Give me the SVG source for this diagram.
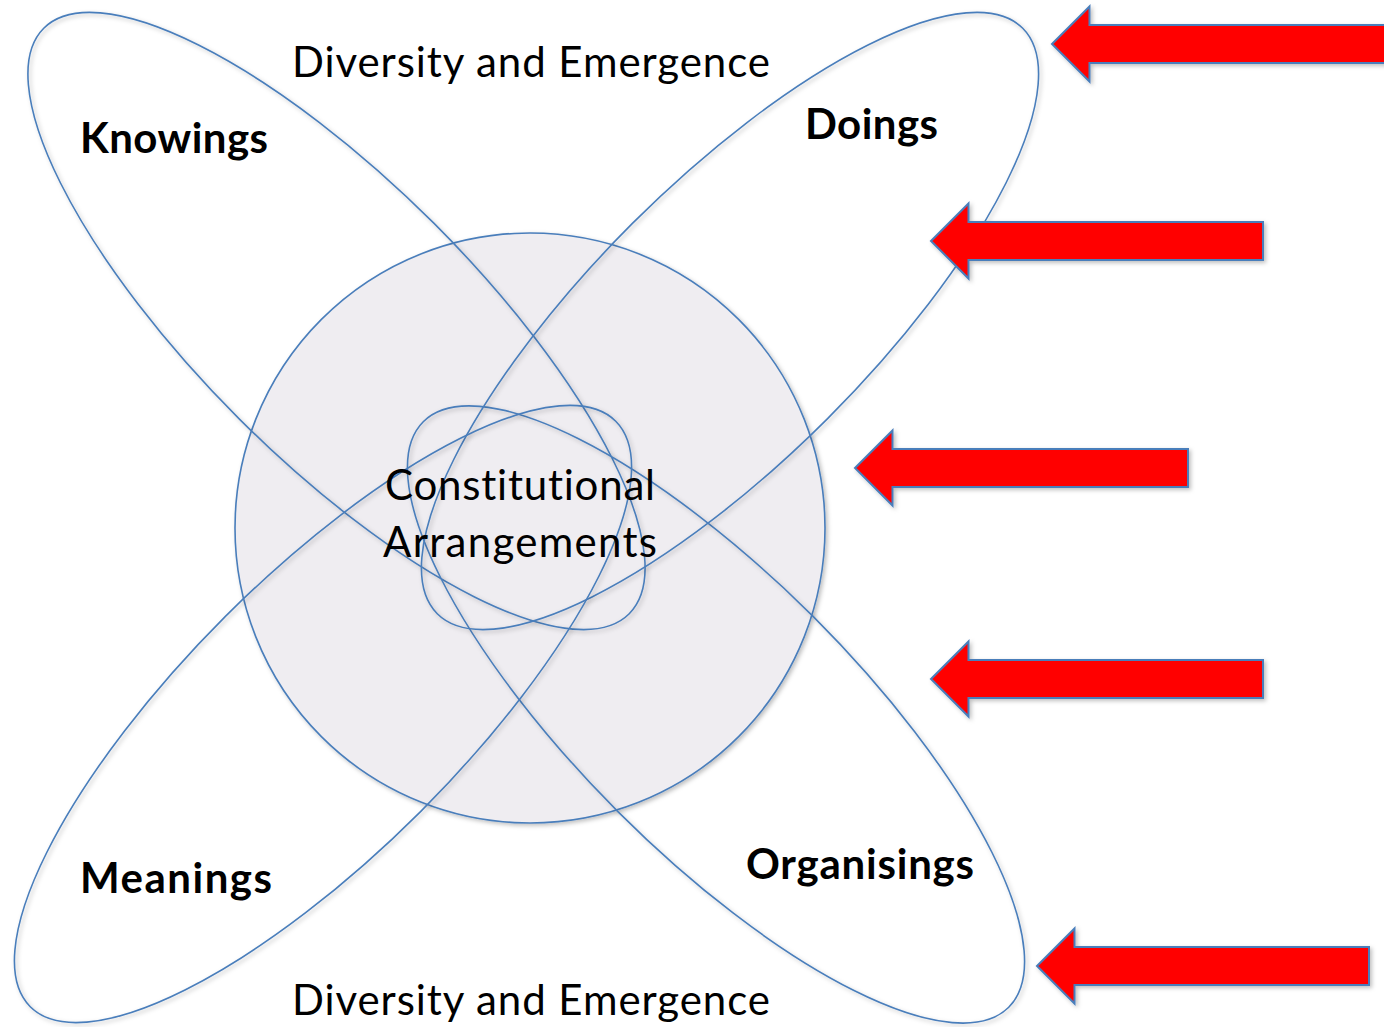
<svg xmlns="http://www.w3.org/2000/svg" width="1384" height="1027" viewBox="0 0 1384 1027">
  <defs>
    <filter id="shadow" x="-10%" y="-10%" width="120%" height="120%">
      <feDropShadow dx="2" dy="2" stdDeviation="2" flood-color="#000000" flood-opacity="0.25"/>
    </filter>
    <style>
      .petal { fill: none; stroke: #4A7EBB; stroke-width: 1.6; }
      .core { fill: #EFEDF1; stroke: #4A7EBB; stroke-width: 1.6; }
      .arrow { fill: #FF0000; stroke: #4A7EBB; stroke-width: 2; stroke-linejoin: miter; }
      .lbl { font-family: Lato, "Open Sans", "Liberation Sans", sans-serif; font-size: 42px; fill: #000000; font-variant-ligatures: none; font-feature-settings: "liga" 0, "clig" 0; }
      .bold { font-weight: bold; }
    </style>
  </defs>
  <rect x="0" y="0" width="1384" height="1027" fill="#FFFFFF"/>

  <g id="core-circle" filter="url(#shadow)">
    <circle class="core" cx="530" cy="528" r="295"/>
  </g>

  <g id="petal-knowings" filter="url(#shadow)">
    <ellipse class="petal" cx="336.5" cy="321" rx="414" ry="138" transform="rotate(45 336.5 321)"/>
  </g>
  <g id="petal-organisings" filter="url(#shadow)">
    <ellipse class="petal" cx="716" cy="714.5" rx="414" ry="138" transform="rotate(45 716 714.5)"/>
  </g>
  <g id="petal-doings" filter="url(#shadow)">
    <ellipse class="petal" cx="730" cy="321" rx="414" ry="138" transform="rotate(-45 730 321)"/>
  </g>
  <g id="petal-meanings" filter="url(#shadow)">
    <ellipse class="petal" cx="323" cy="714" rx="414" ry="138" transform="rotate(-45 323 714)"/>
  </g>

  <g id="labels">
    <text class="lbl" x="292" y="77" textLength="478">Diversity and Emergence</text>
    <text class="lbl" x="292" y="1015" textLength="478">Diversity and Emergence</text>
    <text class="lbl bold" x="80" y="153" textLength="188">Knowings</text>
    <text class="lbl bold" x="805" y="139" textLength="133">Doings</text>
    <text class="lbl bold" x="80" y="893" textLength="192">Meanings</text>
    <text class="lbl bold" x="746" y="879" textLength="228">Organisings</text>
    <text class="lbl" x="385" y="500" textLength="270">Constitutional</text>
    <text class="lbl" x="383" y="557" textLength="274">Arrangements</text>
  </g>

  <g id="connectors" filter="url(#shadow)">
    <polygon class="arrow" points="1052,44 1089.5,6.5 1089.5,25 1386,25 1386,63 1089.5,63 1089.5,81.5"/>
    <polygon class="arrow" points="931,241 968.5,203.5 968.5,222 1263,222 1263,260 968.5,260 968.5,278.5"/>
    <polygon class="arrow" points="855,468 892.5,430.5 892.5,449 1188,449 1188,487 892.5,487 892.5,505.5"/>
    <polygon class="arrow" points="931,679 968.5,641.5 968.5,660 1263,660 1263,698 968.5,698 968.5,716.5"/>
    <polygon class="arrow" points="1037,966 1074.5,928.5 1074.5,947 1369,947 1369,985 1074.5,985 1074.5,1003.5"/>
  </g>
</svg>
